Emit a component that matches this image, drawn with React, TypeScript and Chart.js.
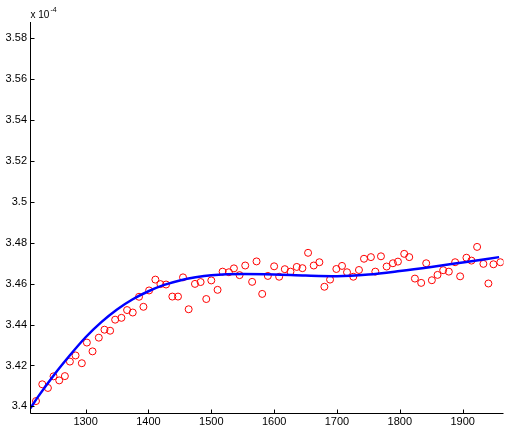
import { useEffect, useRef } from "react";
import { Chart, registerables } from "chart.js";

Chart.register(...registerables);

// Observed samples (red circles)
const sampleYears = [
  1221, 1231, 1240, 1249, 1258, 1267, 1275, 1284, 1294, 1302,
  1311, 1321, 1330, 1339, 1347, 1357, 1366, 1375, 1385, 1392,
  1401, 1411, 1419, 1428, 1438, 1447, 1455, 1464, 1474, 1483,
  1492, 1500, 1510, 1518, 1528, 1536, 1545, 1554, 1565, 1572,
  1581, 1590, 1600, 1608, 1617, 1626, 1636, 1645, 1654, 1663,
  1672, 1680, 1689, 1699, 1708, 1716, 1726, 1735, 1743, 1754,
  1761, 1770, 1779, 1789, 1797, 1807, 1815, 1824, 1834, 1842,
  1851, 1860, 1869, 1878, 1888, 1896, 1906, 1914, 1923, 1933,
  1941, 1949, 1960,
];
const sampleValues = [
  3.4026, 3.4108, 3.4090, 3.4147, 3.4127, 3.4148, 3.4219, 3.4249, 3.4211, 3.4312,
  3.4269, 3.4336, 3.4375, 3.4370, 3.4424, 3.4433, 3.4471, 3.4459, 3.4536, 3.4487,
  3.4567, 3.4620, 3.4598, 3.4596, 3.4537, 3.4537, 3.4631, 3.4475, 3.4599, 3.4608,
  3.4525, 3.4616, 3.4570, 3.4659, 3.4656, 3.4675, 3.4642, 3.4689, 3.4609, 3.4709,
  3.4550, 3.4638, 3.4685, 3.4634, 3.4671, 3.4659, 3.4682, 3.4676, 3.4751, 3.4689,
  3.4705, 3.4585, 3.4620, 3.4672, 3.4687, 3.4656, 3.4634, 3.4667, 3.4722, 3.4730,
  3.4659, 3.4734, 3.4684, 3.4700, 3.4708, 3.4746, 3.4730, 3.4625, 3.4604, 3.4700,
  3.4617, 3.4643, 3.4666, 3.4659, 3.4705, 3.4636, 3.4727, 3.4713, 3.4780, 3.4697,
  3.4601, 3.4695, 3.4705,
];

// Fitted curve (blue line)
const fitYears = [
  1212, 1225, 1250, 1275, 1300, 1325, 1350, 1375, 1400, 1425,
  1450, 1475, 1500, 1550, 1600, 1650, 1700, 1750, 1800, 1850,
  1900, 1958,
];
const fitValues = [
  3.3990, 3.4050, 3.4155, 3.4250, 3.4338, 3.4412, 3.4474, 3.4524, 3.4563, 3.4594,
  3.4616, 3.4631, 3.4641, 3.4647, 3.4645, 3.4640, 3.4637, 3.4645, 3.4662, 3.4682,
  3.4704, 3.4730,
];

const xTicks = [1300, 1400, 1500, 1600, 1700, 1800, 1900];
const yTicks = [3.4, 3.42, 3.44, 3.46, 3.48, 3.5, 3.52, 3.54, 3.56, 3.58];
const xLimits = [1211.5, 1965];
const yLimits = [3.397, 3.588];
const exponentBase = "x 10";
const exponentPower = "-4";

const FONT = "'Liberation Sans', Arial, Helvetica, sans-serif";

const axesPlugin = {
  id: "matlabAxes",
  afterDraw(chart: any) {
    const { ctx, chartArea, scales } = chart;
    const { left, right, top, bottom } = chartArea;
    ctx.save();
    ctx.strokeStyle = "#000";
    ctx.lineWidth = 1;
    ctx.beginPath();
    const ax = Math.round(left) + 0.5;
    const ay = Math.round(bottom) + 0.5;
    ctx.moveTo(ax, top);
    ctx.lineTo(ax, ay);
    ctx.lineTo(right, ay);
    for (const v of xTicks) {
      const x = Math.round(scales.x.getPixelForValue(v)) + 0.5;
      ctx.moveTo(x, ay);
      ctx.lineTo(x, ay - 4);
    }
    for (const v of yTicks) {
      const y = Math.round(scales.y.getPixelForValue(v)) + 0.5;
      ctx.moveTo(ax, y);
      ctx.lineTo(ax + 4, y);
    }
    ctx.stroke();
    ctx.fillStyle = "#000";
    ctx.textBaseline = "alphabetic";
    ctx.textAlign = "left";
    ctx.font = `10px ${FONT}`;
    ctx.fillText(exponentBase, ax, top - 4);
    const w = ctx.measureText(exponentBase).width;
    ctx.font = `7px ${FONT}`;
    ctx.fillText(exponentPower, ax + w + 1, top - 10);
    ctx.restore();
  },
};

export default function App() {
  const canvasRef = useRef<HTMLCanvasElement | null>(null);

  useEffect(() => {
    document.body.style.margin = "0";
    const canvas = canvasRef.current;
    if (!canvas) return;
    const chart = new Chart(canvas, {
      type: "scatter",
      data: {
        datasets: [
          {
            type: "line",
            data: fitYears.map((x, i) => ({ x, y: fitValues[i] })),
            borderColor: "#0000ff",
            borderWidth: 2.5,
            pointRadius: 0,
            fill: false,
            cubicInterpolationMode: "monotone",
          } as any,
          {
            type: "scatter",
            data: sampleYears.map((x, i) => ({ x, y: sampleValues[i] })),
            borderColor: "#ff0000",
            backgroundColor: "rgba(0,0,0,0)",
            borderWidth: 1,
            pointRadius: 3.5,
            pointHoverRadius: 3.5,
          },
        ],
      },
      options: {
        animation: false,
        responsive: true,
        maintainAspectRatio: false,
        layout: { padding: { top: 22, right: 1, left: 0, bottom: 0 } },
        plugins: { legend: { display: false }, tooltip: { enabled: false } },
        events: [],
        scales: {
          x: {
            type: "linear",
            min: xLimits[0],
            max: xLimits[1],
            grid: { display: false, drawTicks: false },
            border: { display: false },
            afterBuildTicks: (s: any) => {
              s.ticks = xTicks.map((value) => ({ value }));
            },
            afterFit: (s: any) => {
              s.height = 14.5;
            },
            ticks: {
              padding: 3,
              color: "#000",
              font: { family: FONT, size: 11 },
              maxRotation: 0,
              autoSkip: false,
              callback: (v: any) => String(v),
            },
          },
          y: {
            type: "linear",
            min: yLimits[0],
            max: yLimits[1],
            grid: { display: false, drawTicks: false },
            border: { display: false },
            afterBuildTicks: (s: any) => {
              s.ticks = yTicks.map((value) => ({ value }));
            },
            afterFit: (s: any) => {
              s.width = 30;
            },
            ticks: {
              padding: 3,
              color: "#000",
              font: { family: FONT, size: 11 },
              autoSkip: false,
              callback: (v: any) => String(Number(Number(v).toFixed(2))),
            },
          },
        },
      },
      plugins: [axesPlugin],
    });
    return () => chart.destroy();
  }, []);

  return (
    <div style={{ width: 508, height: 427, position: "relative", background: "#fff" }}>
      <canvas ref={canvasRef} />
    </div>
  );
}
